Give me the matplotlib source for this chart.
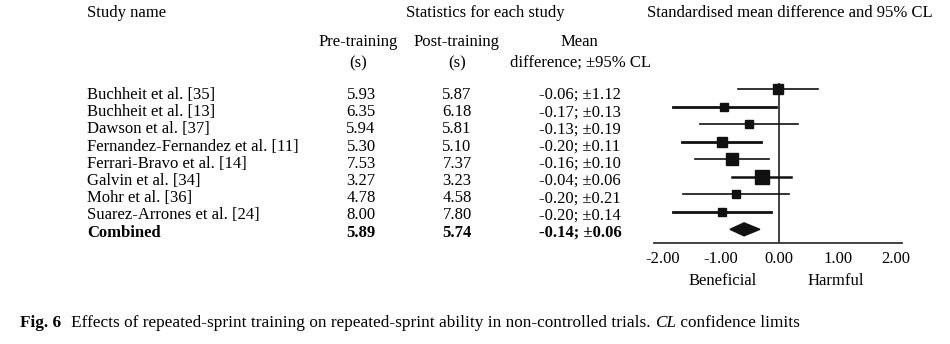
import numpy as np
import matplotlib.pyplot as plt
from matplotlib.patches import Polygon

plt.rcParams['font.family'] = ['Liberation Serif', 'DejaVu Serif']

# data
studies = ['Buchheit et al. [35]', 'Buchheit et al. [13]', 'Dawson et al. [37]',
           'Fernandez-Fernandez et al. [11]', 'Ferrari-Bravo et al. [14]',
           'Galvin et al. [34]', 'Mohr et al. [36]', 'Suarez-Arrones et al. [24]']
pre = [5.93, 6.35, 5.94, 5.30, 7.53, 3.27, 4.78, 8.00]
post = [5.87, 6.18, 5.81, 5.10, 7.37, 3.23, 4.58, 7.80]
mean_diff = [-0.06, -0.17, -0.13, -0.20, -0.16, -0.04, -0.20, -0.20]
cl95 = [1.12, 0.13, 0.19, 0.11, 0.10, 0.06, 0.21, 0.14]
smd = [-0.02, -0.94, -0.51, -0.98, -0.80, -0.29, -0.74, -0.98]
smd_lo = [-0.71, -1.82, -1.36, -1.66, -1.44, -0.81, -1.65, -1.82]
smd_hi = [0.67, -0.05, 0.33, -0.31, -0.18, 0.21, 0.16, -0.14]
weight = [10, 8, 8, 10, 11, 14, 8, 8]

comb_pre, comb_post = 5.89, 5.74
comb_md, comb_cl = -0.14, 0.06
comb_smd, comb_lo, comb_hi = -0.60, -0.84, -0.33

ticks = [-2, -1, 0, 1, 2]

W, H = 950, 344
fig = plt.figure(figsize=(W / 100, H / 100), dpi=100)


def fx(x):
    return x / W


def fy(y):
    return 1 - y / H


fs = 12
# header
fig.text(fx(87), fy(13), 'Study name', fontsize=fs, ha='left', va='center')
fig.text(fx(485), fy(13), 'Statistics for each study', fontsize=fs, ha='center', va='center')
fig.text(fx(790), fy(13), 'Standardised mean difference and 95% CL', fontsize=fs, ha='center', va='center')
fig.text(fx(358), fy(42), 'Pre-training', fontsize=fs, ha='center', va='center')
fig.text(fx(358), fy(63), '(s)', fontsize=fs, ha='center', va='center')
fig.text(fx(457), fy(42), 'Post-training', fontsize=fs, ha='center', va='center')
fig.text(fx(457), fy(63), '(s)', fontsize=fs, ha='center', va='center')
fig.text(fx(579), fy(42), 'Mean', fontsize=fs, ha='center', va='center')
fig.text(fx(580), fy(63), 'difference; \u00b195% CL', fontsize=fs, ha='center', va='center')

# table rows
row_y0, row_dy = 95, 17.2
for i in range(len(studies)):
    y = fy(row_y0 + i * row_dy)
    fig.text(fx(87), y, studies[i], fontsize=fs, ha='left', va='center')
    fig.text(fx(361), y, '%.2f' % pre[i], fontsize=fs, ha='center', va='center')
    fig.text(fx(457), y, '%.2f' % post[i], fontsize=fs, ha='center', va='center')
    fig.text(fx(580), y, '%.2f; \u00b1%.2f' % (mean_diff[i], cl95[i]), fontsize=fs, ha='center', va='center')
y = fy(row_y0 + len(studies) * row_dy)
fig.text(fx(87), y, 'Combined', fontsize=fs, ha='left', va='center', weight='bold')
fig.text(fx(361), y, '%.2f' % comb_pre, fontsize=fs, ha='center', va='center', weight='bold')
fig.text(fx(457), y, '%.2f' % comb_post, fontsize=fs, ha='center', va='center', weight='bold')
fig.text(fx(580), y, '%.2f; \u00b1%.2f' % (comb_md, comb_cl), fontsize=fs, ha='center', va='center', weight='bold')

# forest plot
ax = fig.add_axes([fx(654), fy(243), fx(902) - fx(654), (243 - 83) / H])
ax.set_xlim(-2.14, 2.1)
ax.set_ylim(8.78, -0.36)
ax.axvline(0, color='#333333', lw=1.3, zorder=1)
lws = [1.2, 2.0, 1.2, 2.0, 1.2, 1.8, 1.2, 2.0]
for i in range(len(studies)):
    ax.plot([smd_lo[i], smd_hi[i]], [i, i], color='#111111', lw=lws[i], zorder=2)
    ax.plot(smd[i], i, marker='s', color='#111111', markersize=weight[i] * 0.75,
            linestyle='none', zorder=3)
yc = len(studies)
h = 0.37
ax.add_patch(Polygon([[comb_lo, yc], [comb_smd, yc - h], [comb_hi, yc], [comb_smd, yc + h]],
                     closed=True, color='#111111', zorder=3))
for s in ['top', 'left', 'right']:
    ax.spines[s].set_visible(False)
ax.spines['bottom'].set_linewidth(1.3)
ax.spines['bottom'].set_color('#333333')
ax.set_yticks([])
ax.set_xticks(ticks)
ax.set_xticklabels(['%.2f' % t for t in ticks], fontsize=fs)
ax.tick_params(axis='x', length=0, pad=6)
ax.patch.set_visible(False)

fig.text(fx(723), fy(281), 'Beneficial', fontsize=fs, ha='center', va='center')
fig.text(fx(836), fy(281), 'Harmful', fontsize=fs, ha='center', va='center')

# caption, pieces placed one after another
renderer = fig.canvas.get_renderer()
cap_fs = 12.45
x = 20
pieces = [('Fig. 6', 'bold', 'normal', 10),
          ('Effects of repeated-sprint training on repeated-sprint ability in non-controlled trials. ', 'normal', 'normal', 0),
          ('CL', 'normal', 'italic', 0),
          (' confidence limits', 'normal', 'normal', 0)]
for txt, wt, st, gap in pieces:
    t = fig.text(fx(x), fy(323), txt, fontsize=cap_fs, ha='left', va='center',
                 weight=wt, style=st)
    bb = t.get_window_extent(renderer)
    x += bb.width + gap

fig.savefig('out.png', dpi=100)
